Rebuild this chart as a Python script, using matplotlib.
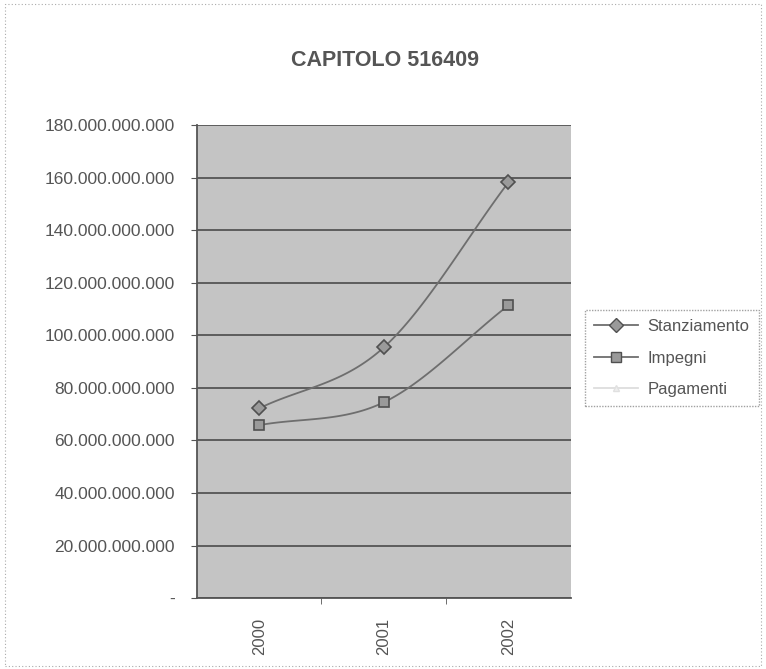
import numpy as np
import matplotlib.pyplot as plt
from matplotlib.ticker import FuncFormatter, FixedLocator
from matplotlib.patches import Rectangle

# dati
anni = ["2000", "2001", "2002"]
stanziamento = [72.2e9, 95.4e9, 158.2e9]
impegni = [65.8e9, 74.5e9, 111.4e9]
pagamenti = [np.nan, np.nan, np.nan]  # non visibile nella scansione

plt.rcParams['font.family'] = ['Liberation Sans', 'DejaVu Sans']


def smooth(xs, ys, n=60):
    # curva levigata stile Excel (Catmull-Rom)
    xs = np.asarray(xs, float)
    ys = np.asarray(ys, float)
    px = np.concatenate([[2 * xs[0] - xs[1]], xs, [2 * xs[-1] - xs[-2]]])
    py = np.concatenate([[2 * ys[0] - ys[1]], ys, [2 * ys[-1] - ys[-2]]])
    out_x, out_y = [], []
    for i in range(1, len(px) - 2):
        t = np.linspace(0, 1, n)
        for p, out in ((px, out_x), (py, out_y)):
            p0, p1, p2, p3 = p[i - 1], p[i], p[i + 1], p[i + 2]
            out.extend(0.5 * (2 * p1 + (-p0 + p2) * t
                              + (2 * p0 - 5 * p1 + 4 * p2 - p3) * t ** 2
                              + (-p0 + 3 * p1 - 3 * p2 + p3) * t ** 3))
    return out_x, out_y


fig = plt.figure(figsize=(7.66, 6.69), dpi=100)
ax = fig.add_axes([0.257, 0.106, 0.488, 0.707])
ax.set_facecolor('#c4c4c4')

x = np.arange(len(anni))
line_col = '#6e6e6e'

sx, sy = smooth(x, stanziamento)
ax.plot(sx, sy, color=line_col, lw=1.3, zorder=3)
ax.plot(x, stanziamento, ls='none', marker='D', ms=7, mfc='#9a9a9a',
        mec='#505050', mew=1.2, zorder=4)
ix, iy = smooth(x, impegni)
ax.plot(ix, iy, color=line_col, lw=1.3, zorder=3)
ax.plot(x, impegni, ls='none', marker='s', ms=7, mfc='#9a9a9a',
        mec='#505050', mew=1.2, zorder=4)
ax.plot(x, pagamenti, color='#eeeeee', marker='^', ms=6, zorder=3)

# legenda manuale
h1, = ax.plot([], [], color=line_col, lw=1.3, marker='D', ms=7,
              mfc='#9a9a9a', mec='#505050')
h2, = ax.plot([], [], color=line_col, lw=1.3, marker='s', ms=7,
              mfc='#9a9a9a', mec='#505050')
h3, = ax.plot([], [], color='#dddddd', lw=1.3, marker='^', ms=5,
              mfc='#eeeeee', mec='#e0e0e0')
leg = fig.legend([h1, h2, h3], ['Stanziamento', 'Impegni', 'Pagamenti'],
                 loc='upper left', bbox_to_anchor=(0.764, 0.537),
                 borderaxespad=0, frameon=True, fancybox=False, fontsize=12,
                 handlelength=2.6, labelspacing=1.0, borderpad=0.55,
                 handletextpad=0.6)
leg.get_frame().set_edgecolor('#8a8a8a')
leg.get_frame().set_linestyle((0, (1, 1)))
leg.get_frame().set_linewidth(1)
for t in leg.get_texts():
    t.set_color('#555555')

ax.set_xlim(-0.5, 2.5)
ax.set_ylim(0, 180e9)
ax.yaxis.set_major_locator(FixedLocator(np.arange(0, 181e9, 20e9)))
ax.yaxis.set_major_formatter(FuncFormatter(
    lambda v, p: '-' if v == 0 else f"{v:,.0f}".replace(',', '.')))
ax.grid(axis='y', color='#555555', lw=1.3)
ax.set_axisbelow(True)

ax.set_xticks(x)
ax.set_xticklabels(anni, rotation=90)
ax.xaxis.set_minor_locator(FixedLocator([0.5, 1.5]))
ax.tick_params(axis='x', which='major', length=0, pad=14, labelsize=12,
               colors='#555555')
ax.tick_params(axis='x', which='minor', length=4, direction='out',
               color='#555555')
ax.tick_params(axis='y', length=4, direction='out', pad=12, labelsize=12.5,
               colors='#555555')

for side in ['left', 'bottom']:
    ax.spines[side].set_color('#555555')
    ax.spines[side].set_linewidth(1.3)
for side in ['top', 'right']:
    ax.spines[side].set_visible(False)

fig.text(0.503, 0.91, 'CAPITOLO 516409', ha='center', va='center',
         fontsize=15.5, fontweight='bold', color='#555555')

# cornice tratteggiata dell'area grafico
fig.patches.append(Rectangle((0.006, 0.004), 0.988, 0.99,
                             transform=fig.transFigure, fill=False,
                             edgecolor='#aaaaaa', lw=0.8,
                             linestyle=(0, (1, 2))))

fig.savefig('out.png', dpi=100)
